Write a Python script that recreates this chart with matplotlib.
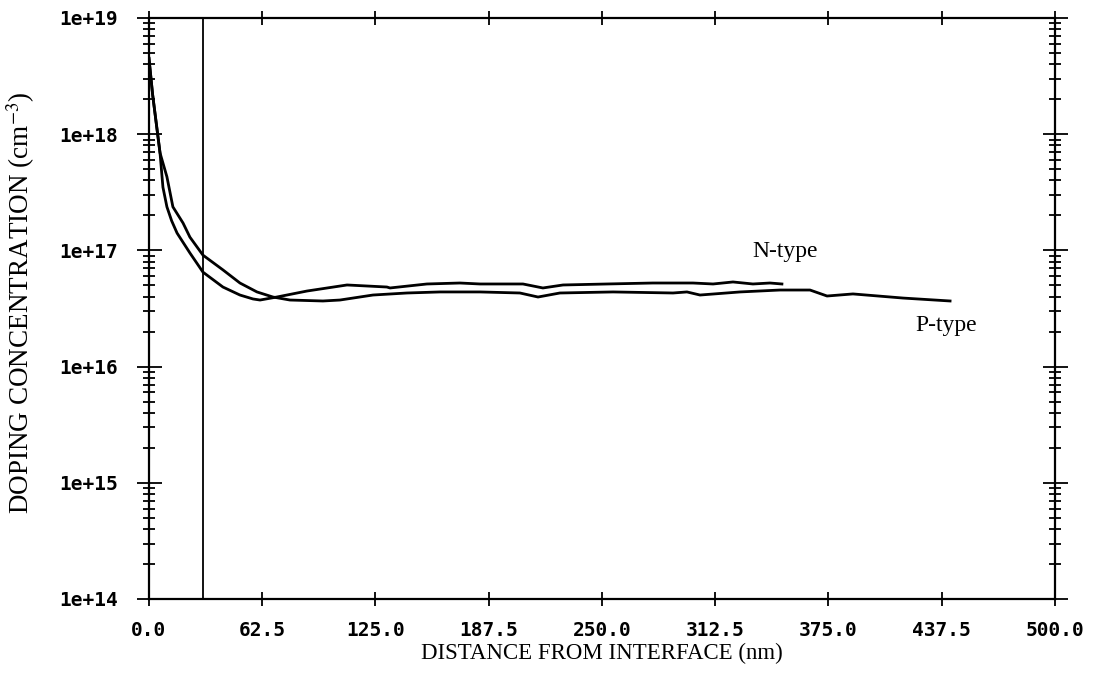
import matplotlib
matplotlib.use('Agg')
import matplotlib.pyplot as plt
from matplotlib.font_manager import FontProperties
from matplotlib.ticker import FixedLocator, FixedFormatter, LogLocator, NullFormatter

plt.rcParams['mathtext.fontset'] = 'stix'

# N-type profile (nm, cm-3)
n_x = [0, 2, 6.1, 7.7, 9.9, 12.5, 15.5, 22.6, 29.8, 40.8, 50.2, 57.4, 61.3,
       70.6, 87.2, 109.3, 131.3, 133.0, 153.4, 171.6, 182.7, 206.4, 217.4,
       228.5, 252.8, 278.1, 300.2, 311.3, 322.3, 333.3, 342.7, 349.3]
n_c = [4.5e18, 2.2e18, 6.9e17, 3.5e17, 2.37e17, 1.8e17, 1.41e17, 9.5e16,
       6.5e16, 4.84e16, 4.13e16, 3.82e16, 3.74e16, 3.97e16, 4.47e16, 5.04e16,
       4.84e16, 4.75e16, 5.14e16, 5.24e16, 5.14e16, 5.14e16, 4.75e16,
       5.04e16, 5.14e16, 5.24e16, 5.24e16, 5.14e16, 5.35e16, 5.14e16,
       5.24e16, 5.14e16]

# P-type profile (nm, cm-3)
p_x = [0, 2, 6.1, 9.9, 13.2, 18.8, 22.6, 29.8, 40.8, 50.2, 59.6, 68.4,
       77.8, 96.0, 105.4, 123.6, 142.4, 160.6, 182.7, 204.7, 214.7, 226.8,
       256.1, 289.2, 296.9, 304.1, 326.2, 348.2, 364.8, 374.2, 388.5, 416.1,
       442.1]
p_c = [4.5e18, 2.2e18, 6.9e17, 4.3e17, 2.37e17, 1.72e17, 1.30e17, 9.1e16,
       6.8e16, 5.24e16, 4.39e16, 3.97e16, 3.74e16, 3.67e16, 3.74e16,
       4.13e16, 4.30e16, 4.39e16, 4.39e16, 4.30e16, 3.97e16, 4.30e16,
       4.39e16, 4.30e16, 4.39e16, 4.13e16, 4.39e16, 4.56e16, 4.56e16,
       4.05e16, 4.22e16, 3.89e16, 3.67e16]

interface_x = 30.0

x_ticks = [0.0, 62.5, 125.0, 187.5, 250.0, 312.5, 375.0, 437.5, 500.0]
x_labels = ['0.0', '62.5', '125.0', '187.5', '250.0', '312.5', '375.0',
            '437.5', '500.0']
y_ticks = [1e14, 1e15, 1e16, 1e17, 1e18, 1e19]
y_labels = ['1e+14', '1e+15', '1e+16', '1e+17', '1e+18', '1e+19']

fig = plt.figure(figsize=(10.97, 6.87), dpi=100)
ax = fig.add_axes([0.1358, 0.1281, 0.8259, 0.8457])

ax.plot(n_x, n_c, color='black', lw=2.0)
ax.plot(p_x, p_c, color='black', lw=2.0)
ax.axvline(interface_x, color='black', lw=1.3)

ax.set_yscale('log')
ax.set_xlim(0, 500)
ax.set_ylim(1e14, 1e19)

ax.xaxis.set_major_locator(FixedLocator(x_ticks))
ax.xaxis.set_major_formatter(FixedFormatter(x_labels))
ax.yaxis.set_major_locator(FixedLocator(y_ticks))
ax.yaxis.set_major_formatter(FixedFormatter(y_labels))
ax.yaxis.set_minor_locator(LogLocator(base=10, subs=range(2, 10)))
ax.yaxis.set_minor_formatter(NullFormatter())

tick_font = FontProperties(family='DejaVu Sans Mono', weight='bold', size=14)
ax.tick_params(axis='x', which='major', direction='inout', length=9.5,
               width=1.3, top=True, pad=11)
ax.tick_params(axis='y', which='major', direction='inout', length=18,
               width=1.3, right=True, pad=13)
ax.tick_params(axis='y', which='minor', direction='inout', length=8.5,
               width=1.3, right=True)
for lbl in ax.get_xticklabels() + ax.get_yticklabels():
    lbl.set_fontproperties(tick_font)

for sp in ax.spines.values():
    sp.set_linewidth(1.6)

ax.set_xlabel('DISTANCE FROM INTERFACE (nm)', family='Liberation Serif',
              fontsize=16.5)
ax.set_ylabel(r'DOPING CONCENTRATION (cm$^{-3}$)', family='Liberation Serif',
              fontsize=19.5)
ax.xaxis.set_label_coords(0.5, -0.0757)
ax.yaxis.set_label_coords(-0.124, 0.51)

ax.text(351, 9.7e16, 'N-type', fontsize=17, family='Liberation Serif',
        ha='center', va='center')
ax.text(440, 2.28e16, 'P-type', fontsize=17, family='Liberation Serif',
        ha='center', va='center')

fig.savefig('out.png', dpi=100)
